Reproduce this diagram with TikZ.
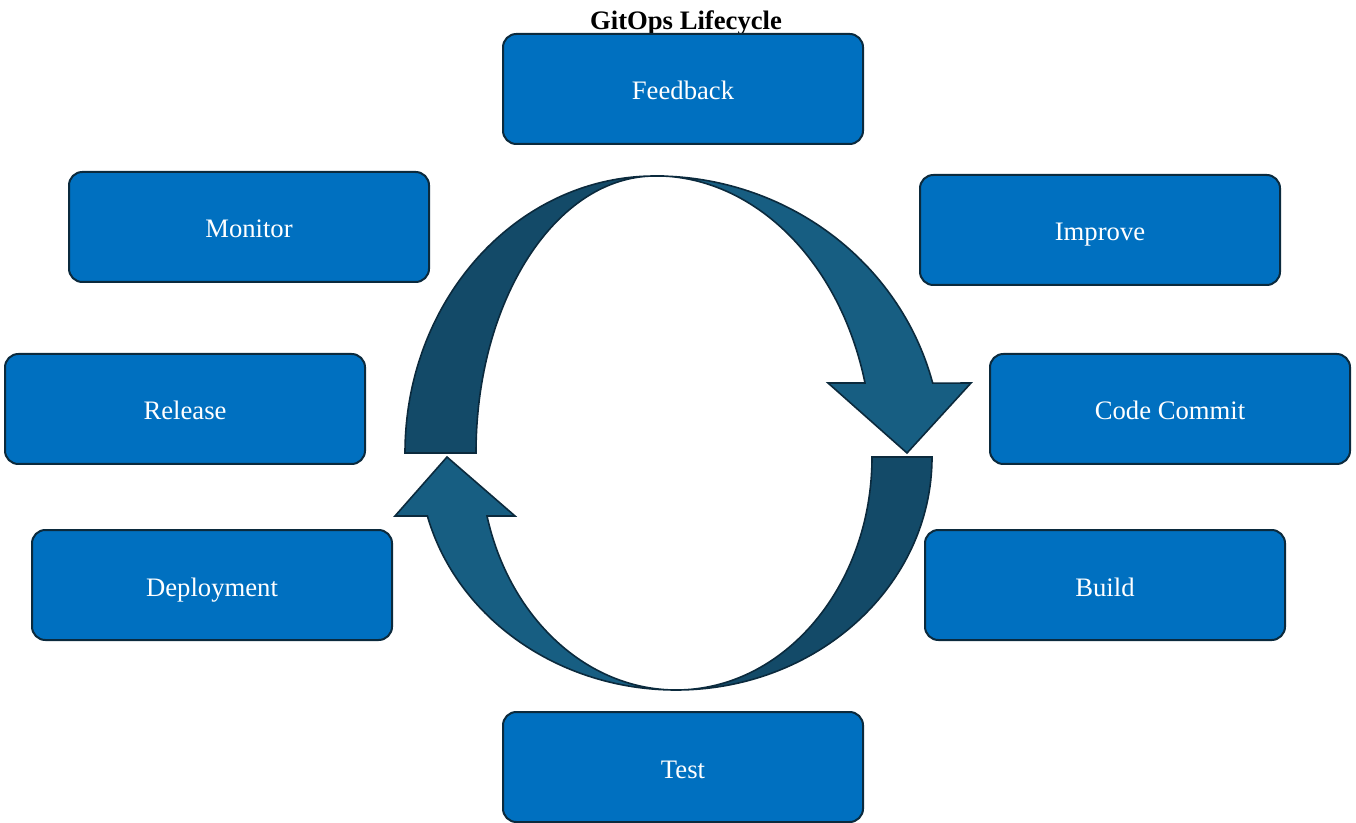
\documentclass[tikz,border=0pt]{standalone}
\usepackage{fontspec}
\setmainfont{Liberation Serif}
\definecolor{boxblue}{HTML}{0070C0}
\definecolor{edgenavy}{HTML}{0B2A3D}
\definecolor{banddark}{HTML}{134A68}
\definecolor{bandlight}{HTML}{175E82}
\begin{document}
\begin{tikzpicture}[x=.75pt,y=.75pt,
  stagebox/.style={draw=edgenavy, line width=1.5pt, fill=boxblue,
    rounded corners=10pt, minimum width=270pt, minimum height=82.5pt,
    text height=18pt, text depth=1.5pt,
    text=white, font=\fontsize{20}{24}\selectfont},
  band/.style={draw=edgenavy, line width=1.2pt, line join=miter}]
\useasboundingbox (0,0) rectangle (1356,822);
\node[font=\bfseries\fontsize{20}{24}\selectfont] (title) at (686,799) {GitOps Lifecycle};
% the stage boxes
\foreach \name/\x/\y/\txt in {feedback/683/733/Feedback, monitor/249/595/Monitor,
    improve/1100/592/Improve, release/185/413/Release, commit/1170/413/Code Commit,
    deploy/212/237/Deployment, build/1105/237/Build, test/683/55/Test}
{
    \node[stagebox] (\name) at (\x,\y) {\txt};
}
% upper arrow
\draw[band, fill=bandlight] (655,646)
    arc[start angle=90, end angle=14.6, x radius=287, y radius=277]
    -- (971,439) -- (907,369) -- (828,439) -- (865,439)
    arc[start angle=14.6, end angle=90, x radius=217, y radius=277] -- cycle;
\draw[band, fill=banddark] (405,369)
    arc[start angle=180, end angle=90, x radius=250, y radius=277]
    arc[start angle=90, end angle=180, x radius=179, y radius=277] -- cycle;
% lower arrow
\draw[band, fill=banddark] (932,365)
    arc[start angle=0, end angle=-90, x radius=256, y radius=233]
    arc[start angle=-90, end angle=0, x radius=196, y radius=233] -- cycle;
\draw[band, fill=bandlight] (676,132)
    arc[start angle=270, end angle=194.67, x radius=257, y radius=233]
    -- (395,306) -- (447,365) -- (515,306) -- (487,306)
    arc[start angle=194.67, end angle=270, x radius=195.5, y radius=233] -- cycle;
\end{tikzpicture}
\end{document}
